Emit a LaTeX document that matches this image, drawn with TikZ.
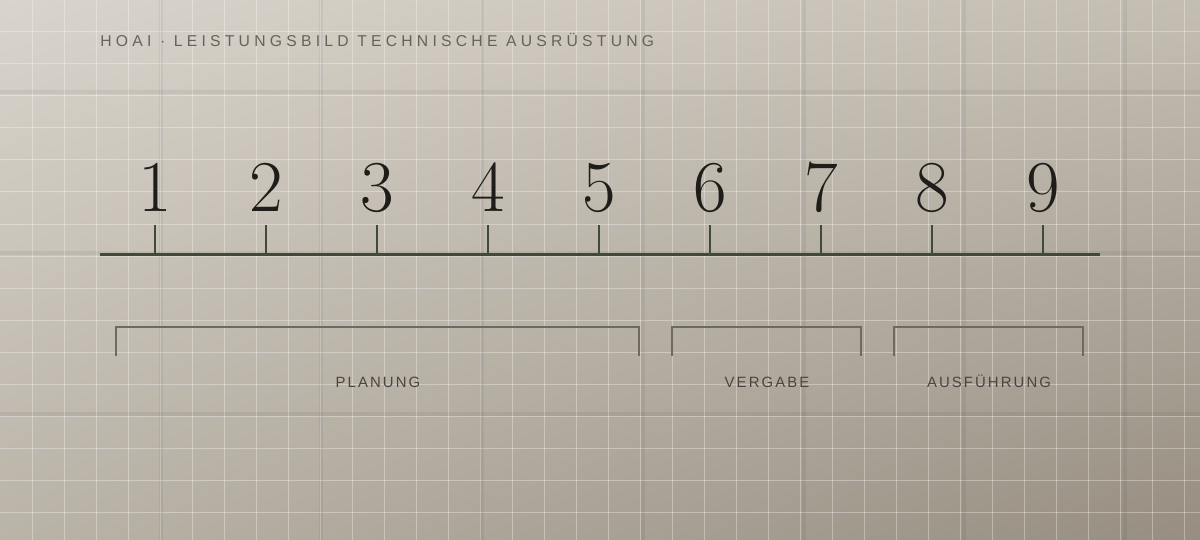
\documentclass[tikz,border=0pt]{standalone}
\usepackage{fontspec}
\usetikzlibrary{shadings}
\newfontfamily\titlefont[LetterSpace=27]{Liberation Sans}
\newfontfamily\phasefont[LetterSpace=14]{Liberation Sans}
\newfontfamily\numfont{lmroman17-regular.otf}
\definecolor{paperTL}{HTML}{D9D4CC}
\definecolor{paperTR}{HTML}{C4BDB2}
\definecolor{paperBL}{HTML}{BAB3A8}
\definecolor{paperBR}{HTML}{978E81}
\definecolor{inkTitle}{HTML}{67625B}
\definecolor{inkPhase}{HTML}{4A463F}
\definecolor{inkBracket}{HTML}{6E6A62}
\definecolor{inkAxis}{HTML}{3F4A37}
\definecolor{inkNum}{HTML}{1F1D19}
\tikzset{
  gridline/.style={white,opacity=0.32,line width=0.5pt},
  seam/.style={black,opacity=0.05,line width=2pt},
  numeral/.style={anchor=base,inner sep=0pt,text=inkNum,font=\numfont\fontsize{36.5}{40}\selectfont},
  tickmark/.style={inkAxis,line width=1pt},
  axisline/.style={inkAxis,line width=1.5pt},
  bracket/.style={inkBracket,line width=0.6pt},
  phase/.style={anchor=base,inner sep=0pt,text=inkPhase,font=\phasefont\fontsize{7.45}{9}\selectfont}
}
\begin{document}
\begin{tikzpicture}[x=0.5pt,y=-0.5pt]
% paper
\useasboundingbox (0,0) rectangle (1200,540);
\shade[upper left=paperTL,upper right=paperTR,lower left=paperBL,lower right=paperBR]
	(0,0) rectangle (1200,540);
\foreach \gx in {32,64,...,1184}
	\draw[gridline] (\gx,0) -- (\gx,540);
\foreach \gy in {32,64,...,512}
	\draw[gridline] (0,\gy) -- (1200,\gy);
\foreach \k in {1,...,7}
	\draw[seam] ({160.7*\k},0) -- ({160.7*\k},540);
\foreach \gy in {92,253,414}
	\draw[seam] (0,\gy) -- (1200,\gy);
% title
\node[anchor=base west,inner sep=0pt,text=inkTitle,font=\titlefont\fontsize{7.85}{9}\selectfont]
	(title) at (100,47) {HOAI · LEISTUNGSBILD TECHNISCHE AUSRÜSTUNG};
% axis and phases
\coordinate (axL) at (100,254);
\coordinate (axR) at (1100,254);
\foreach \i in {1,...,9}{
	\node[numeral] (n\i) at ({155+111*(\i-1)},212) {\i};
	\coordinate (t\i) at ({155+111*(\i-1)},254);
	\coordinate (u\i) at ({155+111*(\i-1)},225);
	\draw[tickmark] (t\i) -- (u\i);
}
\draw[axisline] (axL) -- (axR);
% groups
\draw[bracket] (116,356) -- (116,327) -- (639,327) -- (639,356);
\draw[bracket] (672,356) -- (672,327) -- (861,327) -- (861,356);
\draw[bracket] (894,356) -- (894,327) -- (1083,327) -- (1083,356);
\node[phase] (planung) at (378,387) {PLANUNG};
\node[phase] (vergabe) at (767,387) {VERGABE};
\node[phase] (ausfuehrung) at (989,387) {AUSFÜHRUNG};
\end{tikzpicture}
\end{document}
